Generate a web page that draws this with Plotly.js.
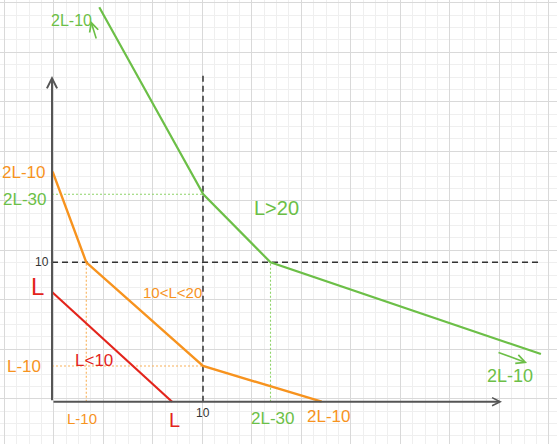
<!DOCTYPE html>
<html>
<head>
<meta charset="utf-8">
<script src="https://cdn.plot.ly/plotly-3.0.1.min.js"></script>
<style>html,body{margin:0;padding:0;background:#fff;}#chart{width:557px;height:444px;}</style>
</head>
<body>
<div id="chart"></div>
<script>
// ---- data (data units; 10 marked on each axis) ----
const redX = [0, 7.95];
const redY = [7.87, 0];
const orangeX = [0.04, 2.27, 10, 17.86];
const orangeY = [16.5, 10, 2.56, 0];
const greenX = [3.13, 10.02, 14.47, 32.38];
const greenY = [28.29, 14.88, 10, 3.42];
const refValue = 10;            // dashed reference lines x = 10, y = 10
const xAxisEnd = 29.8;          // arrow tip of x axis
const yAxisEnd = 23.36;         // arrow tip of y axis
const refVTop = 23.65;          // top of dashed vertical
const refHEnd = 32.3;           // end of dashed horizontal

const labelTexts = ["2L-10", "L>20", "10", "L", "10<L<20", "L-10", "L<10", "L-10", "L", "10", "2L-30", "2L-10", "2L-10", "2L-10", "2L-30"];

const GREEN = "#6cbf47", ORANGE = "#f7931e", RED = "#e3241b";
const GREEN_DOT = "#8fd46a", ORANGE_DOT = "#f9b25a", DARK = "#333333", AXIS = "#555555";

function line(x, y, color, width, dash) {
  return {type: "scatter", mode: "lines", x: x, y: y, xaxis: "x2", yaxis: "y2",
          line: {color: color, width: width, dash: dash || "solid"}, hoverinfo: "skip", showlegend: false};
}

const traces = [
  // placeholder on the grid (paper) axes
  {type: "scatter", mode: "lines", x: [], y: [], xaxis: "x", yaxis: "y", showlegend: false, hoverinfo: "skip"},
  // dashed reference lines
  line([refValue, refValue], [0, refVTop], DARK, 1.5, "6px,4px"),
  line([0, refHEnd], [refValue, refValue], DARK, 1.5, "6px,4px"),
  // dotted guides
  line([0, greenX[1]], [greenY[1], greenY[1]], GREEN_DOT, 1.1, "2px,2px"),
  line([greenX[2], greenX[2]], [0, greenY[2]], GREEN_DOT, 1.1, "2px,2px"),
  line([orangeX[1], orangeX[1]], [0, orangeY[1]], ORANGE_DOT, 1.1, "2px,2px"),
  line([0, orangeX[2]], [orangeY[2], orangeY[2]], ORANGE_DOT, 1.1, "2px,2px"),
  // main curves
  line(redX, redY, RED, 2.2),
  line(orangeX, orangeY, ORANGE, 2.4),
  line(greenX, greenY, GREEN, 2.2)
];

const labelX = [1.32, 14.87, -0.63, -0.93, 7.95, -1.85, 2.78, 1.99, 8.08, 10, 14.57, 18.34, 30.33, -1.92, -1.79];
const labelY = [27.38, 13.89, 10.02, 8.23, 7.80, 2.49, 2.98, -1.24, -1.31, -0.81, -1.17, -1.03, 1.84, 16.41, 14.47];
const labelColor = [GREEN, GREEN, DARK, RED, ORANGE, ORANGE, RED, ORANGE, RED, DARK, GREEN, ORANGE, GREEN, ORANGE, GREEN];
const labelSize = [16, 20, 12, 24, 15, 17, 17, 15, 20, 12, 17, 17, 18, 17, 17];

const annotations = labelTexts.map((t, i) => ({
  text: t, x: labelX[i], y: labelY[i], xref: "x2", yref: "y2", showarrow: false,
  xanchor: "center", yanchor: "middle",
  font: {family: "Liberation Sans, Arial, sans-serif", size: labelSize[i], color: labelColor[i]}
}));

function arrow(tx, ty, sx, sy, color, width, size) {
  return {text: "", x: tx, y: ty, ax: sx, ay: sy, xref: "x2", yref: "y2", axref: "x2", ayref: "y2",
          showarrow: true, arrowhead: 5, arrowsize: size, arrowwidth: width, arrowcolor: color, standoff: 0, startstandoff: 0};
}
// axes with arrow heads
annotations.push(arrow(0, yAxisEnd, 0, 0, AXIS, 2.0, 1.0));
annotations.push(arrow(xAxisEnd, 0, 0, 0, AXIS, 2.0, 0.8));
// little hand-drawn arrows next to labels
annotations.push(arrow(2.56, 27.33, 2.96, 25.95, GREEN, 1.6, 1.1));
annotations.push(arrow(31.46, 2.78, 29.47, 3.57, GREEN, 1.6, 1.1));

const layout = {
  width: 557, height: 444, autosize: false,
  margin: {l: 0, r: 0, t: 0, b: 0, pad: 0},
  paper_bgcolor: "#ffffff", plot_bgcolor: "#ffffff",
  showlegend: false,
  // graph-paper grid (pixel units)
  xaxis: {range: [0, 557], showgrid: true, gridcolor: "#d9d9d9", gridwidth: 1, tick0: 4.3, dtick: 49.5,
          minor: {showgrid: true, tick0: 4.3, dtick: 12.375, gridcolor: "#efefef", gridwidth: 1},
          zeroline: false, showticklabels: false, ticks: "", showline: false, fixedrange: true},
  yaxis: {range: [444, 0], showgrid: true, gridcolor: "#d9d9d9", gridwidth: 1, tick0: 2.8, dtick: 49.5,
          minor: {showgrid: true, tick0: 2.8, dtick: 12.375, gridcolor: "#efefef", gridwidth: 1},
          zeroline: false, showticklabels: false, ticks: "", showline: false, fixedrange: true},
  // data axes
  xaxis2: {overlaying: "x", range: [-3.444, 33.444], showgrid: false, zeroline: false, showticklabels: false, ticks: "", showline: false},
  yaxis2: {overlaying: "y", range: [-3.034, 28.816], showgrid: false, zeroline: false, showticklabels: false, ticks: "", showline: false},
  annotations: annotations
};

Plotly.newPlot("chart", traces, layout, {staticPlot: true, displayModeBar: false});
</script>
</body>
</html>
